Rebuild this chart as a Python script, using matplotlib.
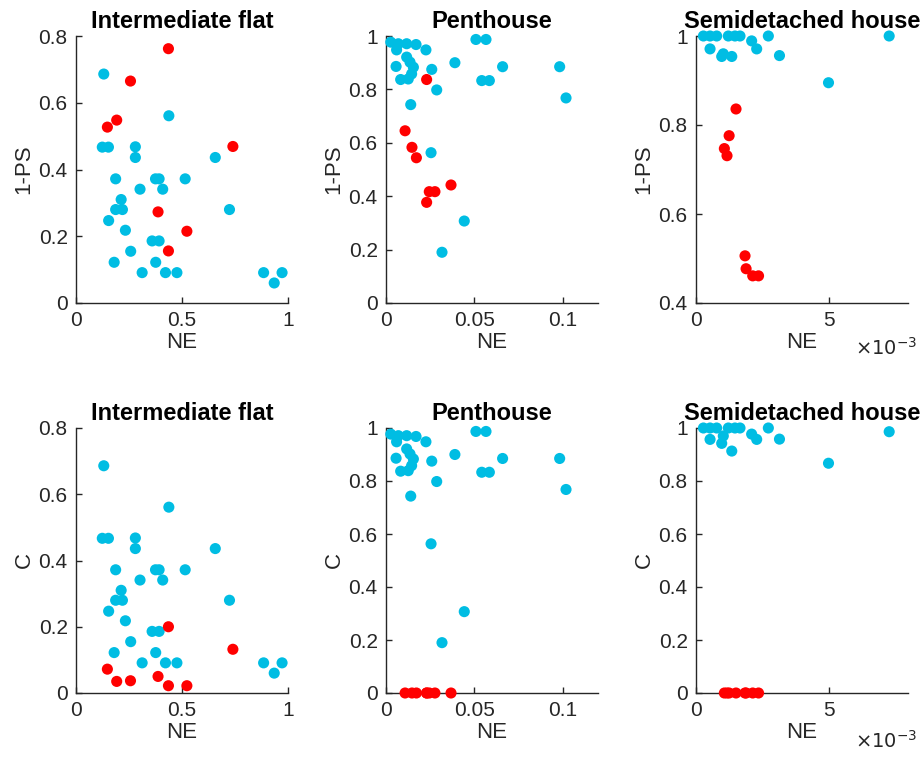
import matplotlib
matplotlib.use("Agg")
import matplotlib.pyplot as plt
from matplotlib.ticker import FuncFormatter

plt.rcParams['font.family'] = ['Liberation Sans', 'DejaVu Sans']

# ---------------- data ----------------
# Intermediate flat (same NE / blue values in both rows)
flat_blue_ne = [0.131, 0.438, 0.124, 0.153, 0.280, 0.280, 0.657, 0.187, 0.375, 0.392,
                0.515, 0.302, 0.409, 0.213, 0.187, 0.219, 0.724, 0.154, 0.233, 0.359,
                0.392, 0.258, 0.180, 0.376, 0.312, 0.422, 0.476, 0.885, 0.972, 0.935]
flat_blue_y = [0.686, 0.561, 0.467, 0.467, 0.468, 0.436, 0.436, 0.372, 0.372, 0.372,
               0.372, 0.341, 0.341, 0.310, 0.280, 0.280, 0.280, 0.247, 0.218, 0.186,
               0.186, 0.155, 0.122, 0.122, 0.091, 0.091, 0.091, 0.091, 0.091, 0.060]
flat_red_ne = [0.436, 0.257, 0.148, 0.192, 0.740, 0.387, 0.523, 0.436]
flat_red_ps = [0.762, 0.665, 0.527, 0.548, 0.469, 0.273, 0.215, 0.156]
flat_red_c = [0.200, 0.037, 0.072, 0.035, 0.132, 0.050, 0.022, 0.022]

# Penthouse
pent_blue_ne = [0.0027, 0.0070, 0.0117, 0.0170, 0.0226, 0.0060, 0.0057, 0.0117, 0.0136,
                0.0155, 0.0145, 0.0083, 0.0126, 0.0259, 0.0287, 0.0140, 0.0390, 0.0509,
                0.0566, 0.0542, 0.0585, 0.0660, 0.0983, 0.1019, 0.0255, 0.0443, 0.0317]
pent_blue_y = [0.977, 0.971, 0.971, 0.968, 0.948, 0.948, 0.886, 0.921, 0.902,
               0.883, 0.858, 0.837, 0.839, 0.875, 0.798, 0.743, 0.900, 0.987,
               0.987, 0.833, 0.833, 0.885, 0.885, 0.768, 0.563, 0.307, 0.190]
pent_red_ne = [0.0230, 0.0108, 0.0147, 0.0172, 0.0245, 0.0277, 0.0230, 0.0368]
pent_red_ps = [0.837, 0.645, 0.583, 0.544, 0.417, 0.417, 0.377, 0.442]
pent_red_c = [0, 0, 0, 0, 0, 0, 0, 0]

# Semidetached house
semi_blue_ne = [0.00028, 0.00053, 0.00078, 0.00122, 0.00147, 0.00166, 0.00273, 0.00210,
                0.00229, 0.00053, 0.00103, 0.00097, 0.00135, 0.00315, 0.00500, 0.00729]
semi_blue_ps = [1.0, 1.0, 1.0, 1.0, 1.0, 1.0, 1.0, 0.989,
                0.971, 0.971, 0.960, 0.954, 0.954, 0.956, 0.895, 1.0]
semi_blue_c = [1.0, 1.0, 1.0, 1.0, 1.0, 1.0, 1.0, 0.977,
               0.957, 0.957, 0.970, 0.942, 0.913, 0.958, 0.867, 0.986]
semi_red_ne = [0.00151, 0.00125, 0.00107, 0.00117, 0.00185, 0.00189, 0.00214, 0.00236]
semi_red_ps = [0.836, 0.776, 0.747, 0.731, 0.506, 0.477, 0.461, 0.461]
semi_red_c = [0, 0, 0, 0, 0, 0, 0, 0]

titles = ["Intermediate flat", "Penthouse", "Semidetached house"]
ylabels = ["1-PS", "C"]

BLUE = "#00BDE3"
RED = "#FF0000"
TXT = '#262626'
fs_tick = 15
fs_label = 16
fs_title = 17

W, H = 922, 759
fig = plt.figure(figsize=(W / 100, H / 100), dpi=100)

lefts = [76, 386, 696]
width = 212
rows = [(36, 303), (428, 693)]

panels = [
    [(flat_blue_ne, flat_blue_y, flat_red_ne, flat_red_ps),
     (pent_blue_ne, pent_blue_y, pent_red_ne, pent_red_ps),
     (semi_blue_ne, semi_blue_ps, semi_red_ne, semi_red_ps)],
    [(flat_blue_ne, flat_blue_y, flat_red_ne, flat_red_c),
     (pent_blue_ne, pent_blue_y, pent_red_ne, pent_red_c),
     (semi_blue_ne, semi_blue_c, semi_red_ne, semi_red_c)],
]

xlims = [(0, 1), (0, 0.12), (0, 0.008)]
xticks = [[0, 0.5, 1], [0, 0.05, 0.1], [0, 0.005]]
ylims = [[(0, 0.8), (0, 1), (0.4, 1)], [(0, 0.8), (0, 1), (0, 1)]]
yticks = [[[0, 0.2, 0.4, 0.6, 0.8], [0, 0.2, 0.4, 0.6, 0.8, 1], [0.4, 0.6, 0.8, 1]],
          [[0, 0.2, 0.4, 0.6, 0.8], [0, 0.2, 0.4, 0.6, 0.8, 1], [0, 0.2, 0.4, 0.6, 0.8, 1]]]

gfmt = FuncFormatter(lambda v, p: "%g" % round(v, 6))
milli = FuncFormatter(lambda v, p: "%g" % round(v * 1000, 6))

for r, (top, bot) in enumerate(rows):
    for c in range(3):
        ax = fig.add_axes([lefts[c] / W, 1 - bot / H, width / W, (bot - top) / H])
        bx, by, rx, ry = panels[r][c]
        ax.scatter(bx, by, s=64, color=BLUE, edgecolors='none', zorder=3, clip_on=False)
        ax.scatter(rx, ry, s=64, color=RED, edgecolors='none', zorder=4, clip_on=False)
        ax.set_xlim(*xlims[c])
        ax.set_ylim(*ylims[r][c])
        ax.set_xticks(xticks[c])
        ax.set_yticks(yticks[r][c])
        ax.yaxis.set_major_formatter(gfmt)
        ax.xaxis.set_major_formatter(milli if c == 2 else gfmt)
        for s in ['top', 'right']:
            ax.spines[s].set_visible(False)
        for s in ['left', 'bottom']:
            ax.spines[s].set_color(TXT)
            ax.spines[s].set_linewidth(1.0)
        ax.tick_params(direction='in', length=4, width=1.0, colors=TXT,
                       labelsize=fs_tick, labelcolor=TXT, pad=6)
        ax.set_title(titles[c], fontsize=fs_title, fontweight='bold', pad=6)
        ax.set_xlabel("NE", fontsize=fs_label, color=TXT, labelpad=1)
        ax.set_ylabel(ylabels[r], fontsize=fs_label, color=TXT, labelpad=3)

# x10^-3 multiplier labels of the right-hand column
for ybase in (355, 748):
    fig.text(917 / W, 1 - ybase / H, r"$\times10^{-3}$", fontsize=fs_tick - 1,
             color=TXT, ha='right', va='baseline')

fig.savefig("out.png", dpi=100)
